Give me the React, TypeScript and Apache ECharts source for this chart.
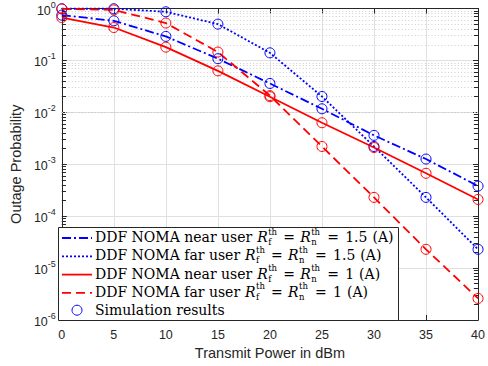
import React, { useEffect, useRef } from "react";
import * as echarts from "echarts";

// ---- data ----
const powerDbm = [0, 5, 10, 15, 20, 25, 30, 35, 40];
const nearUserR15 = [0.745, 0.58, 0.29, 0.108, 0.036, 0.0117, 0.0036, 0.00126, 0.00038];
const farUserR15 = [0.99, 0.99, 0.865, 0.5, 0.14, 0.0202, 0.0022, 0.00023, 0.000023];
const nearUserR1 = [0.67, 0.43, 0.18, 0.063, 0.02, 0.0063, 0.0021, 0.00067, 0.00021];
const farUserR1 = [0.98, 0.94, 0.525, 0.145, 0.021, 0.0022, 0.00023, 0.000023, 0.0000026];

const legendPrefixes = [
  "DDF NOMA near user",
  "DDF NOMA far user",
  "DDF NOMA near user",
  "DDF NOMA far user",
];
const legendRates = ["1.5", "1.5", "1", "1"];
const simLabel = "Simulation results";
const xName = "Transmit Power in dBm";
const yName = "Outage Probability";

const BLUE = "#0000ff";
const RED = "#ff0000";
const AX = "#262626";

const minorLogGrid: number[] = [];
for (let e = -6; e < 0; e++) for (let k = 2; k <= 9; k++) minorLogGrid.push(k * Math.pow(10, e));

const SERIF = "DejaVu Serif";
const SANS = "Liberation Sans";

function measure(text: string, font: string): number {
  const c = document.createElement("canvas").getContext("2d");
  if (!c) return text.length * 7;
  c.font = font;
  return c.measureText(text).width;
}

export default function App() {
  const ref = useRef<HTMLDivElement>(null);
  useEffect(() => {
    if (!ref.current) return;
    const chart = echarts.init(ref.current, undefined, { renderer: "svg" });

    const GL = 58, GR = 5, GT = 6, GB = 46;
    const H = 366;

    const lineStyles = [
      { color: BLUE, type: [9, 3, 2, 3] as any, width: 1.8 },
      { color: BLUE, type: [2, 2] as any, width: 1.8 },
      { color: RED, type: "solid" as any, width: 1.8 },
      { color: RED, type: [9, 5] as any, width: 1.8 },
    ];
    const seriesData = [nearUserR15, farUserR15, nearUserR1, farUserR1];
    const names = ["near15", "far15", "near1", "far1"];

    const dataSeries = seriesData.map((arr, i) => ({
      type: "line",
      name: names[i],
      xAxisIndex: 0,
      yAxisIndex: 0,
      data: powerDbm.map((x, j) => [x, arr[j]]),
      symbol: "circle",
      symbolSize: 10,
      clip: false,
      z: 5,
      itemStyle: { color: "rgba(0,0,0,0)", borderColor: lineStyles[i].color, borderWidth: 1 },
      lineStyle: lineStyles[i],
      emphasis: { disabled: true },
    }));

    const tickSegs: any[] = [];
    minorLogGrid.forEach((v) => {
      tickSegs.push([{ coord: [0, v] }, { coord: [0.4, v] }]);
      tickSegs.push([{ coord: [40, v] }, { coord: [39.6, v] }]);
    });

    const gridSeries = {
      type: "line",
      xAxisIndex: 0,
      yAxisIndex: 0,
      data: [[0, 1e-6]],
      showSymbol: false,
      symbol: "none",
      lineStyle: { opacity: 0 },
      z: 1,
      silent: true,
      markLine: {
        silent: true,
        symbol: ["none", "none"],
        label: { show: false },
        lineStyle: { color: "#cfcfcf", type: [1, 2.3], width: 1 },
        data: minorLogGrid.map((v) => ({ yAxis: v })),
      },
    };
    const tickSeries = {
      type: "line",
      xAxisIndex: 0,
      yAxisIndex: 0,
      data: [[0, 1e-6]],
      showSymbol: false,
      symbol: "none",
      lineStyle: { opacity: 0 },
      z: 6,
      silent: true,
      markLine: {
        silent: true,
        symbol: ["none", "none"],
        label: { show: false },
        lineStyle: { color: AX, type: "solid", width: 1 },
        data: tickSegs,
      },
    };

    // ---- legend drawn as graphic ----
    const LX = 58, LY = 227, LR = 398, LB = H - GB;
    const rowY = [237, 255.3, 273.6, 291.9, 310.2];
    const textX = 95;
    const mainFont = 14;
    const supFont = 8.5;
    const g: any[] = [];
    g.push({
      type: "rect",
      shape: { x: LX + 0.5, y: LY + 0.5, width: LR - LX, height: LB - LY },
      style: { fill: "#fff", stroke: AX, lineWidth: 1 },
      z: 100,
    });
    const txt = (text: string, x: number, y: number, size: number, italic = false) => ({
      type: "text",
      x,
      y,
      z: 101,
      style: {
        text,
        fontSize: size,
        fontFamily: SERIF,
        fontStyle: italic ? "italic" : "normal",
        fill: "#000",
        align: "left",
        verticalAlign: "middle",
      },
    });
    legendPrefixes.forEach((p, i) => {
      const y = rowY[i];
      const ls = lineStyles[i];
      g.push({
        type: "line",
        z: 101,
        shape: { x1: 62, y1: y + 1, x2: 92, y2: y + 1 },
        style: {
          stroke: ls.color,
          lineWidth: ls.width,
          lineDash: Array.isArray(ls.type) ? ls.type : null,
        },
      });
      g.push(txt(p, textX, y, mainFont));
      const E = textX + measure(p, `${mainFont}px "${SERIF}"`);
      g.push(txt("R", E + 5, y, mainFont, true));
      g.push(txt("th", E + 16, y - 5.5, supFont));
      g.push(txt("f", E + 16, y + 5, supFont));
      g.push(txt("=", E + 31, y, mainFont));
      g.push(txt("R", E + 48, y, mainFont, true));
      g.push(txt("th", E + 59, y - 5.5, supFont));
      g.push(txt("n", E + 59, y + 5, supFont));
      g.push(txt("=", E + 75, y, mainFont));
      g.push(txt(legendRates[i], E + 93, y, mainFont));
      const vw = measure(legendRates[i], `${mainFont}px "${SERIF}"`);
      g.push(txt("(A)", E + 93 + vw + 5, y, mainFont));
    });
    g.push({
      type: "circle",
      z: 101,
      shape: { cx: 77, cy: rowY[4], r: 5 },
      style: { fill: "none", stroke: BLUE, lineWidth: 1 },
    });
    g.push(txt(simLabel, textX, rowY[4], mainFont));

    const yLabelRich = {
      b: { fontSize: 12.5, fontFamily: SANS, color: AX, verticalAlign: "bottom", padding: [4, 0, 0, 0] },
      s: { fontSize: 9, fontFamily: SANS, color: AX, verticalAlign: "top" },
    };

    chart.setOption({
      animation: false,
      backgroundColor: "#fff",
      grid: { left: GL, right: GR, top: GT, bottom: GB, containLabel: false },
      xAxis: [
        {
          type: "value",
          min: 0,
          max: 40,
          interval: 5,
          position: "bottom",
          name: xName,
          nameLocation: "middle",
          nameGap: 24,
          nameTextStyle: { fontFamily: SANS, fontSize: 14.5, color: AX },
          axisLine: { show: true, onZero: false, lineStyle: { color: AX, width: 1 } },
          axisTick: { show: true, inside: true, length: 5, lineStyle: { color: AX } },
          axisLabel: { fontFamily: SANS, fontSize: 12.5, color: AX, margin: 8 },
          splitLine: { show: true, lineStyle: { color: "#e0e0e0", width: 1 } },
        },
        {
          type: "value",
          min: 0,
          max: 40,
          interval: 5,
          position: "top",
          axisLine: { show: true, onZero: false, lineStyle: { color: AX, width: 1 } },
          axisTick: { show: true, inside: true, length: 5, lineStyle: { color: AX } },
          axisLabel: { show: false },
          splitLine: { show: false },
        },
      ],
      yAxis: [
        {
          type: "log",
          logBase: 10,
          min: 1e-6,
          max: 1,
          splitNumber: 6,
          position: "left",
          name: yName,
          nameLocation: "middle",
          nameGap: 38,
          nameTextStyle: { fontFamily: SANS, fontSize: 14.5, color: AX },
          axisLine: { show: true, onZero: false, lineStyle: { color: AX, width: 1 } },
          axisTick: { show: true, inside: true, length: 5, lineStyle: { color: AX } },
          axisLabel: {
            margin: 6,
            formatter: (v: number) => `{b|10}{s|${Math.round(Math.log10(v))}}`,
            rich: yLabelRich,
          },
          splitLine: { show: true, lineStyle: { color: "#e0e0e0", width: 1 } },
        },
        {
          type: "log",
          logBase: 10,
          min: 1e-6,
          max: 1,
          splitNumber: 6,
          position: "right",
          axisLine: { show: true, onZero: false, lineStyle: { color: AX, width: 1 } },
          axisTick: { show: true, inside: true, length: 5, lineStyle: { color: AX } },
          axisLabel: { show: false },
          splitLine: { show: false },
        },
      ],
      series: [gridSeries, tickSeries, ...dataSeries],
      graphic: g,
    });
    return () => chart.dispose();
  }, []);
  return <div ref={ref} style={{ width: 488, height: 366, position: "absolute", left: 0, top: 0 }} />;
}
